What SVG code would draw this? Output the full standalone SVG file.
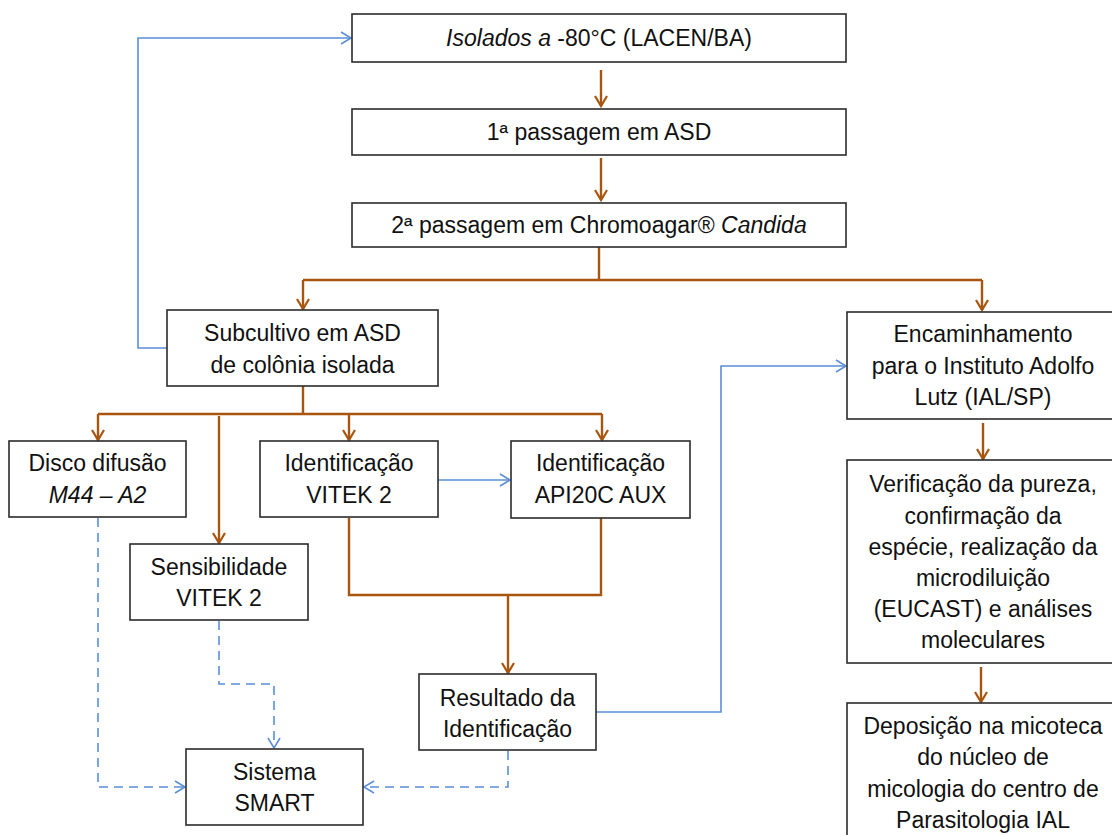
<svg xmlns="http://www.w3.org/2000/svg" width="1112" height="835" viewBox="0 0 1112 835">
<style>
.box{fill:#fff;stroke:#2b2b2b;stroke-width:1.6}
.t{font-family:"Liberation Sans",Arial,sans-serif;font-size:23px;fill:#111;text-anchor:middle}
.i{font-style:italic}
.br{fill:none;stroke:#A8560F;stroke-width:2.4}
.bl{fill:none;stroke:#5B8FD6;stroke-width:1.6}
.dash{stroke-dasharray:9 6}
</style>
<defs>
<marker id="ab" markerUnits="userSpaceOnUse" markerWidth="14" markerHeight="16" refX="11" refY="7" orient="auto" viewBox="0 0 14 14">
<path d="M1,1 L11,7 L1,13" fill="none" stroke="#A8560F" stroke-width="2.2"/>
</marker>
<marker id="au" markerUnits="userSpaceOnUse" markerWidth="14" markerHeight="16" refX="11" refY="7" orient="auto" viewBox="0 0 14 14">
<path d="M1,1 L11,7 L1,13" fill="none" stroke="#5B8FD6" stroke-width="1.6"/>
</marker>
</defs>
<rect width="1112" height="835" fill="#fff"/>
<g id="connectors">
<path class="br" d="M601,70 V106" marker-end="url(#ab)"/>
<path class="br" d="M601,158 V200" marker-end="url(#ab)"/>
<path class="br" d="M599,247 V280 M303,280 H982"/>
<path class="br" d="M303,280 V309" marker-end="url(#ab)"/>
<path class="br" d="M982,280 V310" marker-end="url(#ab)"/>
<path class="br" d="M303,386 V414 M98,414 H602"/>
<path class="br" d="M98,414 V440" marker-end="url(#ab)"/>
<path class="br" d="M349,414 V440" marker-end="url(#ab)"/>
<path class="br" d="M602,414 V440" marker-end="url(#ab)"/>
<path class="br" d="M219,416 V543" marker-end="url(#ab)"/>
<path class="br" d="M349,518 V595 H601 V518"/>
<path class="br" d="M508,595 V673" marker-end="url(#ab)"/>
<path class="br" d="M983,423 V459" marker-end="url(#ab)"/>
<path class="br" d="M981,667 V702" marker-end="url(#ab)"/>
<path class="bl" d="M167,348 H138 V38 H351" marker-end="url(#au)"/>
<path class="bl" d="M438,480 H510" marker-end="url(#au)"/>
<path class="bl" d="M596,712 H721 V366 H846" marker-end="url(#au)"/>
<path class="bl dash" d="M98,518 V787 H185" marker-end="url(#au)"/>
<path class="bl dash" d="M219,621 V684 H274 V748" marker-end="url(#au)"/>
<path class="bl dash" d="M508,751 V787 H364" marker-end="url(#au)"/>
</g>
<g id="n1"><rect class="box" x="352" y="14" width="494" height="48"/>
<text class="t" x="599" y="46"><tspan class="i">Isolados a</tspan> -80°C (LACEN/BA)</text></g>
<g id="n2"><rect class="box" x="352" y="109" width="494" height="46"/>
<text class="t" x="599" y="140">1ª passagem em ASD</text></g>
<g id="n3"><rect class="box" x="352" y="203" width="494" height="44"/>
<text class="t" x="599" y="233">2ª passagem em Chromoagar® <tspan class="i">Candida</tspan></text></g>
<g id="n4"><rect class="box" x="167" y="310" width="271" height="76"/>
<text class="t" x="302.5" y="341">Subcultivo em ASD</text>
<text class="t" x="302.5" y="373">de colônia isolada</text></g>
<g id="n5"><rect class="box" x="9" y="441" width="177" height="76"/>
<text class="t" x="97.5" y="471">Disco difusão</text>
<text class="t i" x="97.5" y="503">M44 – A2</text></g>
<g id="n6"><rect class="box" x="260" y="441" width="178" height="76"/>
<text class="t" x="349" y="471">Identificação</text>
<text class="t" x="349" y="503">VITEK 2</text></g>
<g id="n7"><rect class="box" x="511" y="441" width="179" height="77"/>
<text class="t" x="600.5" y="471">Identificação</text>
<text class="t" x="600.5" y="503">API20C AUX</text></g>
<g id="n8"><rect class="box" x="130" y="544" width="178" height="76"/>
<text class="t" x="219" y="575">Sensibilidade</text>
<text class="t" x="219" y="606">VITEK 2</text></g>
<g id="n9"><rect class="box" x="419" y="674" width="177" height="76"/>
<text class="t" x="507.5" y="706">Resultado da</text>
<text class="t" x="507.5" y="737">Identificação</text></g>
<g id="n10"><rect class="box" x="186" y="749" width="177" height="76"/>
<text class="t" x="274.5" y="780">Sistema</text>
<text class="t" x="274.5" y="811">SMART</text></g>
<g id="n11"><rect class="box" x="847" y="312" width="275" height="107"/>
<text class="t" x="983" y="342">Encaminhamento</text>
<text class="t" x="983" y="374">para o Instituto Adolfo</text>
<text class="t" x="983" y="405">Lutz (IAL/SP)</text></g>
<g id="n12"><rect class="box" x="847" y="460" width="275" height="203"/>
<text class="t" x="983" y="492">Verificação da pureza,</text>
<text class="t" x="983" y="524">confirmação da</text>
<text class="t" x="983" y="555">espécie, realização da</text>
<text class="t" x="983" y="586">microdiluição</text>
<text class="t" x="983" y="617">(EUCAST) e análises</text>
<text class="t" x="983" y="648">moleculares</text></g>
<g id="n13"><rect class="box" x="847" y="703" width="275" height="150"/>
<text class="t" x="983" y="734">Deposição na micoteca</text>
<text class="t" x="983" y="765">do núcleo de</text>
<text class="t" x="983" y="797">micologia do centro de</text>
<text class="t" x="983" y="828">Parasitologia IAL</text></g>
</svg>
